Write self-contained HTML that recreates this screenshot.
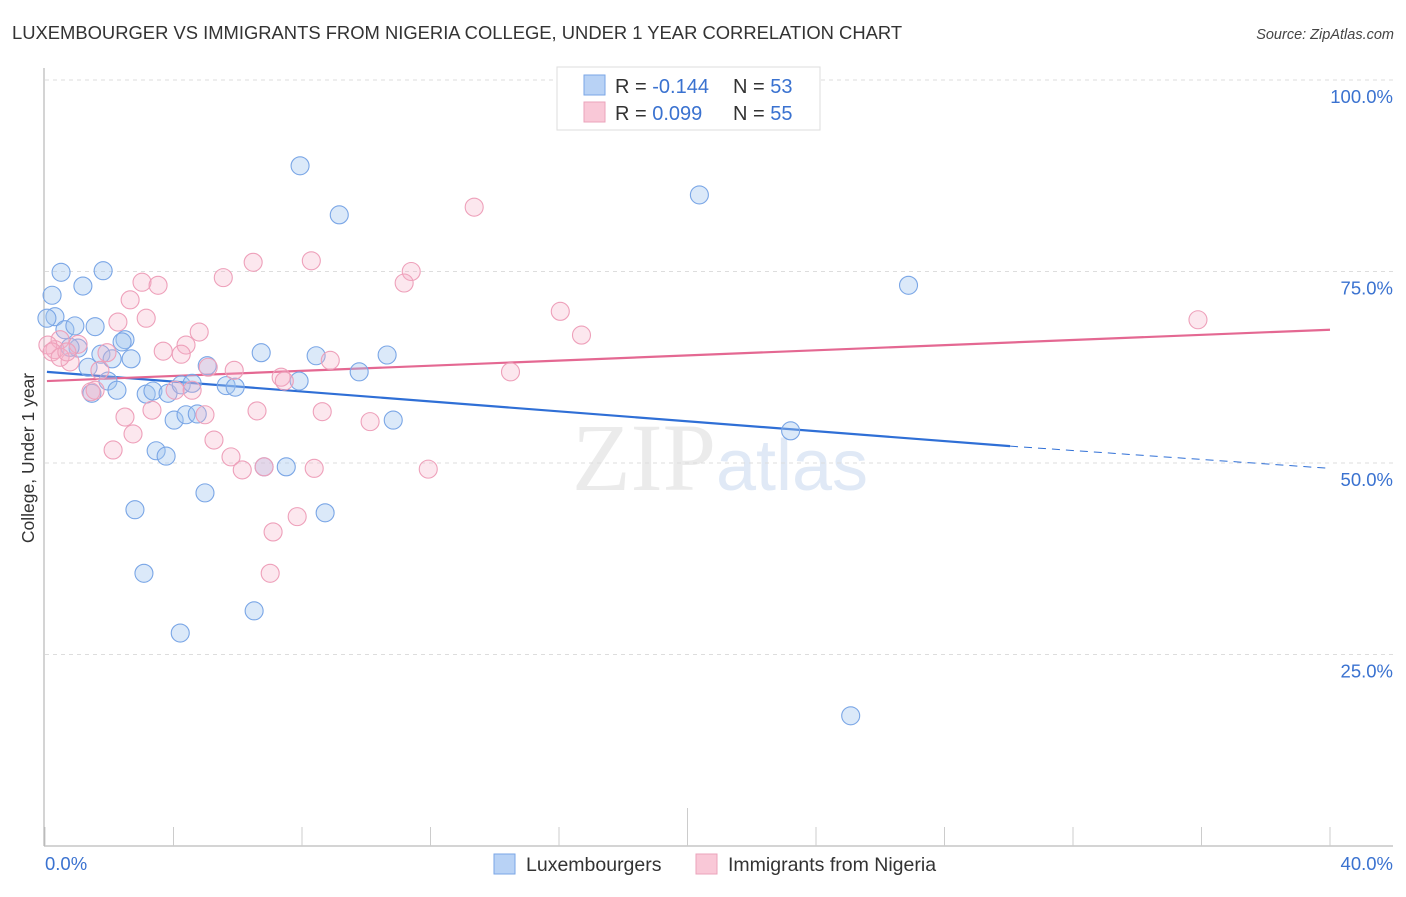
<!DOCTYPE html>
<html><head><meta charset="utf-8"><style>
body{margin:0;background:#fff;font-family:"Liberation Sans",sans-serif;}
svg text{font-family:"Liberation Sans",sans-serif;}
</style></head><body>
<svg id="chart" width="1406" height="892" xmlns="http://www.w3.org/2000/svg">
<text x="12" y="39" font-size="18.4" fill="#333">LUXEMBOURGER VS IMMIGRANTS FROM NIGERIA COLLEGE, UNDER 1 YEAR CORRELATION CHART</text>
<text x="1394" y="39" font-size="14.5" fill="#444" text-anchor="end" font-style="italic">Source: ZipAtlas.com</text>
<text x="720" y="490" font-size="96" fill="#ebebeb" text-anchor="middle" font-family="Liberation Serif" ><tspan font-family="Liberation Serif">ZIP</tspan><tspan font-family="Liberation Sans" font-size="72" fill="#e0e9f6">atlas</tspan></text>
<g id="grid"></g><g id="axes"></g><g id="trend"></g><g id="pts"></g>
<g>
<rect x="557" y="67" width="263" height="63" fill="#fff" stroke="#ddd"/>
<rect x="584" y="75" width="21" height="20" fill="#b8d2f5" stroke="#7aa6e6"/>
<rect x="584" y="102" width="21" height="20" fill="#f9c8d7" stroke="#eba3bb"/>
<text x="615" y="93" font-size="20" fill="#333">R = <tspan fill="#3a72d0">-0.144</tspan><tspan x="733">N = </tspan><tspan fill="#3a72d0">53</tspan></text>
<text x="615" y="120" font-size="20" fill="#333">R = <tspan fill="#3a72d0"> 0.099</tspan><tspan x="733">N = </tspan><tspan fill="#3a72d0">55</tspan></text>
</g>
<g>
<rect x="494" y="854" width="21" height="20" fill="#b8d2f5" stroke="#7aa6e6"/>
<text x="526" y="871" font-size="19.5" fill="#333">Luxembourgers</text>
<rect x="696" y="854" width="21" height="20" fill="#f9c8d7" stroke="#eba3bb"/>
<text x="728" y="871" font-size="19.5" fill="#333">Immigrants from Nigeria</text>
</g>
<text transform="translate(34,458) rotate(-90)" font-size="17.5" fill="#333" text-anchor="middle">College, Under 1 year</text>
</svg>
<script>
const yTicks=[100,75,50,25];
const yTickLabels=["100.0%","75.0%","50.0%","25.0%"];
const xTickLabels=["0.0%","40.0%"];
const blueX=[7.94,9.16,20.37,26.88,0.50,1.81,1.18,0.22,0.31,0.62,0.93,1.56,2.49,2.40,1.03,1.74,2.09,2.68,1.34,1.96,2.24,1.46,3.15,3.36,3.83,4.24,4.58,5.05,5.64,5.92,6.73,7.91,8.44,9.78,10.65,10.84,4.02,4.39,4.74,3.46,3.77,4.98,2.80,8.72,6.82,7.51,3.08,4.21,6.51,25.08,23.21,0.78,0.06];
const blueY=[88.8,82.4,85.0,73.2,74.9,75.1,73.1,71.9,69.1,67.4,67.9,67.8,66.1,65.8,65.0,64.2,63.6,63.6,62.5,60.7,59.5,59.1,59.0,59.4,59.1,60.2,60.4,62.7,60.1,59.9,64.4,60.7,64.0,61.9,64.1,55.6,55.6,56.3,56.4,51.6,50.9,46.1,43.9,43.5,49.5,49.5,35.6,27.8,30.7,17.0,54.2,65.1,68.9];
const pinkX=[13.36,11.40,11.18,8.29,6.48,5.55,3.02,3.52,2.65,3.15,2.27,4.80,4.39,3.68,4.24,1.93,1.03,0.47,0.31,0.78,1.71,5.08,5.89,7.35,7.45,8.88,16.04,16.70,14.49,35.89,1.43,1.56,4.05,4.58,2.49,3.33,4.98,6.60,8.63,10.12,2.74,2.12,5.26,5.79,6.14,6.82,8.38,11.93,7.85,7.10,7.01,0.09,0.22,0.47,0.68];
const pinkY=[83.4,75.0,73.5,76.4,76.2,74.2,73.6,73.2,71.3,68.9,68.4,67.1,65.4,64.6,64.2,64.4,65.5,66.1,64.8,63.2,62.1,62.5,62.1,61.2,60.7,63.4,69.8,66.7,61.9,68.7,59.3,59.5,59.5,59.5,56.0,56.9,56.3,56.8,56.7,55.4,53.8,51.7,53.0,50.8,49.1,49.5,49.3,49.2,43.0,41.0,35.6,65.4,64.5,63.8,64.5];
const blueTrend=[[0.06,61.9],[30.04,52.2],[40,49.3]];
const pinkTrend=[[0.06,60.7],[40,67.4]];
const NS="http://www.w3.org/2000/svg";
const X=v=>45+v*32.125, Y=v=>846-v*7.66;
function mk(t,a,p){const e=document.createElementNS(NS,t);for(const k in a)e.setAttribute(k,a[k]);document.getElementById(p).appendChild(e);return e;}
yTicks.forEach((v,i)=>{
 const g=mk('line',{x1:45,x2:1393,y1:Y(v),y2:Y(v),stroke:'#ddd','stroke-dasharray':'4,4'},'grid');
 
 
 const t=mk('text',{x:1393,y:Y(v)+23,'font-size':18.5,fill:'#3a72d0','text-anchor':'end'},'axes');t.textContent=yTickLabels[i];
 
 
});
mk('line',{x1:44,x2:44,y1:68,y2:846,stroke:'#aaa'},'axes');
mk('line',{x1:44,x2:1393,y1:846,y2:846,stroke:'#aaa'},'axes');
for(let i=0;i<=10;i++){const l=mk('line',{x1:X(i*4),x2:X(i*4),y1:i==5?808:827,y2:846,stroke:'#ccc'},'axes');
 
 }
[[0,'start'],[40,'end']].forEach(([v,a],i)=>{const t=mk('text',{x:i?1393:45,y:870,'font-size':18.5,fill:'#3a72d0','text-anchor':a},'axes');t.textContent=xTickLabels[i];
 
 });
function pts(xs,ys,fill,stroke,name){xs.forEach((x,i)=>{const c=mk('circle',{cx:X(x),cy:Y(ys[i]),r:9,fill:fill,stroke:stroke,'stroke-width':1.1},'pts');
 
 });}
pts(blueX,blueY,'rgba(160,196,240,0.38)','#7aa6e6','luxembourger-point');
pts(pinkX,pinkY,'rgba(246,176,200,0.3)','#eea0ba','nigeria-point');
let b=mk('line',{x1:X(blueTrend[0][0]),y1:Y(blueTrend[0][1]),x2:X(blueTrend[1][0]),y2:Y(blueTrend[1][1]),stroke:'#2f6fd6','stroke-width':2.2},'trend');


let bd=mk('line',{x1:X(blueTrend[1][0]),y1:Y(blueTrend[1][1]),x2:X(blueTrend[2][0]),y2:Y(blueTrend[2][1]),stroke:'#2f6fd6','stroke-width':1,'stroke-dasharray':'8,6'},'trend');


let p=mk('line',{x1:X(pinkTrend[0][0]),y1:Y(pinkTrend[0][1]),x2:X(pinkTrend[1][0]),y2:Y(pinkTrend[1][1]),stroke:'#e46892','stroke-width':2.2},'trend');


</script>
</body></html>
